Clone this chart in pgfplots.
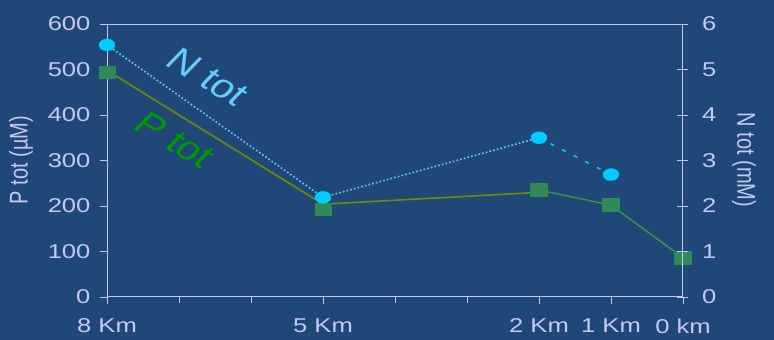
\documentclass[border=0pt]{standalone}
\usepackage{pgfplots}
\pgfplotsset{compat=1.18}
\usepackage{fontspec}
\setmainfont{Liberation Sans}[FakeStretch=1.28]
\newfontfamily\plainsans{Liberation Sans}

\definecolor{bg}{RGB}{31,72,121}
\definecolor{fg}{RGB}{200,200,238}
\definecolor{ncirc}{RGB}{0,204,255}
\definecolor{nline}{RGB}{102,204,255}
\definecolor{ntext}{RGB}{102,204,255}
\definecolor{psq}{RGB}{46,139,87}
\definecolor{pline}{RGB}{60,150,70}
\definecolor{oliveline}{RGB}{110,140,0}
\definecolor{ptext}{RGB}{0,153,0}

\pgfplotsset{
  transect/.style={
    at={(107pt,43pt)}, anchor=south west,
    scale only axis, width=576pt, height=273pt,
    xmin=0, xmax=8,
    /pgf/number format/assume math mode=true,
    tick label style={font=\fontsize{20}{20}\selectfont, text=fg},
    every tick/.style={fg, line width=0.8pt},
    axis line style={fg, line width=1pt},
    clip=false,
  }
}

\begin{document}
\begin{tikzpicture}[x=1pt,y=1pt]
\useasboundingbox (0,0) rectangle (774,340);
\fill[bg] (0,0) rectangle (774,340);

% P tot, left axis
\begin{axis}[
  transect,
  ymin=0, ymax=600,
  xtick={0,3,6,7,8},
  xticklabels={8 Km,5 Km,2 Km,1 Km,0 km},
  minor xtick={1,2,4,5},
  ytick={0,100,...,600},
  xtick pos=bottom, ytick pos=left,
  tick align=outside,
  major tick length=7pt, minor tick length=6pt,
  xticklabel style={yshift=-11pt},
  yticklabel style={xshift=-6pt},
]
\addplot[oliveline, line width=1.6pt] coordinates {(0,498) (3,204) (6,230)};
\addplot[pline, line width=1.4pt, mark=square*, mark size=6pt,
  mark options={xscale=1.33, fill=psq, draw=psq, solid}]
  coordinates {(6,235) (7,202) (8,86)};
\addplot[only marks, mark=square*, mark size=6pt,
  mark options={xscale=1.33, fill=psq, draw=psq}]
  coordinates {(0,493) (3,192)};
\end{axis}

% N tot, right axis
\begin{axis}[
  transect,
  ymin=0, ymax=6,
  axis x line=none, axis y line*=right,
  ytick={0,1,...,6},
  tick align=center, major tick length=11pt,
  yticklabel style={xshift=10pt},
]
\addplot[nline, line width=1.6pt, dash pattern=on 1.6pt off 2.2pt]
  coordinates {(0,5.54) (3,2.19) (6,3.50)};
\addplot[ncirc, line width=1.6pt, dash pattern=on 4pt off 9pt]
  coordinates {(6,3.50) (7,2.69)};
\addplot[only marks, mark=*, mark size=6pt,
  mark options={xscale=1.33, fill=ncirc, draw=ncirc}]
  coordinates {(0,5.54) (3,2.19) (6,3.50) (7,2.69)};
\end{axis}

\node[font=\plainsans\fontsize{20}{20}\selectfont, text=fg, xscale=1.28, rotate=90]
  at (21,180) {P tot (µM)};
\node[font=\plainsans\fontsize{20}{20}\selectfont, text=fg, xscale=1.28, rotate=-90]
  at (744,180) {N tot (mM)};
\node[font=\plainsans\fontsize{33}{33}\selectfont, text=ntext, xscale=1.28, rotate=-37]
  at (208,263) {N tot};
\node[font=\plainsans\fontsize{33}{33}\selectfont, text=ptext, xscale=1.28, rotate=-37]
  at (175,200) {P tot};
\end{tikzpicture}
\end{document}
